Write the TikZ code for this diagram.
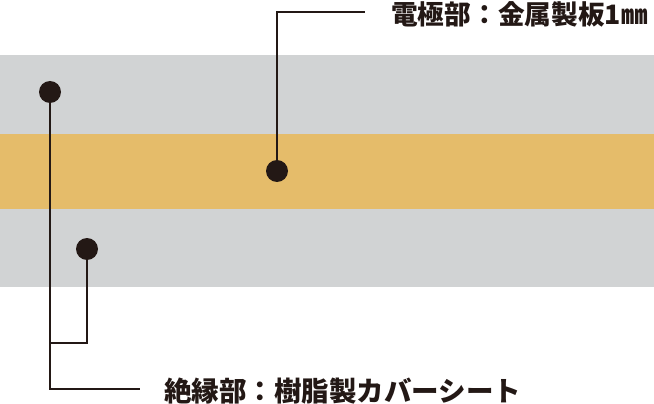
\documentclass[tikz,border=0pt]{standalone}
\usepackage{fontspec}
\newfontfamily\cjk{Noto Sans CJK JP}
\definecolor{bandgray}{RGB}{209,211,212}
\definecolor{bandorange}{RGB}{229,188,106}
\definecolor{ink}{RGB}{35,24,21}
\begin{document}
\begin{tikzpicture}[x=1pt,y=-1pt,
  dot/.style={circle,fill=ink,inner sep=0pt,minimum size=22pt},
  leader/.style={draw=ink,line width=1.5pt},
  label/.style={anchor=west,inner sep=0pt,font=\cjk\bfseries\fontsize{27.5}{27.5}\selectfont,text=ink},
  toplabel/.style={label,font=\cjk\bfseries\fontsize{26.7}{26.7}\selectfont}]
\useasboundingbox (0,0) rectangle (654,404);
\fill[bandgray] (0,55) rectangle (654,134);
\fill[bandorange] (0,134) rectangle (654,209);
\fill[bandgray] (0,209) rectangle (654,287);
\coordinate (c1a) at (50,389);
\coordinate (c1b) at (140,389);
\coordinate (c2a) at (87,343);
\coordinate (c2b) at (50,343);
\coordinate (c3a) at (277,12);
\coordinate (c3b) at (365,12);
\node[dot] (d1) at (50,92) {};
\node[dot] (d2) at (87,249) {};
\node[dot] (d3) at (277,171) {};
\draw[leader] (d1.center) -- (c1a) -- (c1b);
\draw[leader] (d2.center) -- (c2a) -- (c2b);
\draw[leader] (d3.center) -- (c3a) -- (c3b);
\node[toplabel] (t1) at (391,14) {電極部：金属製板1㎜};
\node[label] (t2) at (164,391) {絶縁部：樹脂製カバーシート};
\end{tikzpicture}
\end{document}
